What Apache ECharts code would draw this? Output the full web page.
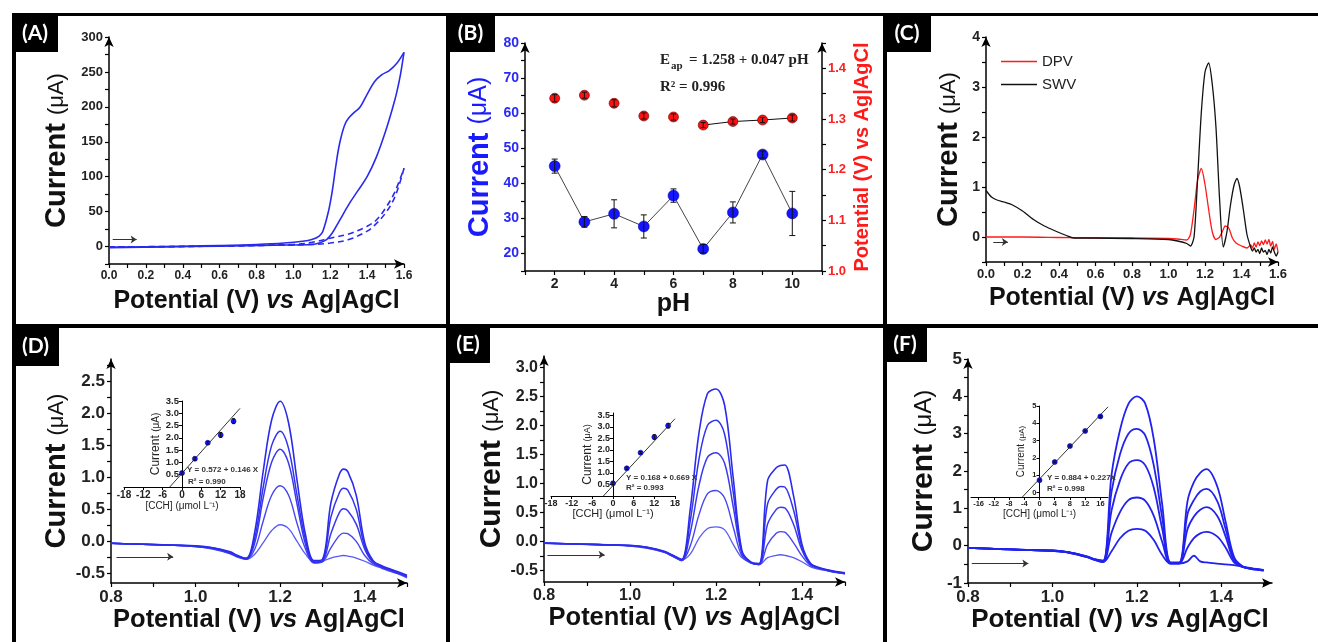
<!DOCTYPE html>
<html>
<head>
<meta charset="utf-8">
<script src="https://cdn.jsdelivr.net/npm/echarts@6/dist/echarts.min.js"></script>
<style>
  html, body { margin: 0; padding: 0; background: #fff; }
  #main { width: 1318px; height: 642px; }
</style>
</head>
<body>
<div id="main"></div>
<script>
// ---- (A) cyclic voltammograms ----
var cvFwdX = [0, 0.2, 0.4, 0.6, 0.8, 0.95, 1.05, 1.10, 1.14, 1.16, 1.19, 1.21, 1.23, 1.245, 1.26, 1.28, 1.30, 1.33, 1.36, 1.40, 1.44, 1.48, 1.52, 1.56, 1.60];
var cvFwdY = [-1, -0.5, 0.5, 1.5, 3, 5, 7.5, 10, 15, 22, 50, 78, 115, 140, 158, 175, 184, 192, 199, 218, 236, 246, 252, 262, 278];
var cvRevX = [1.60, 1.58, 1.56, 1.54, 1.50, 1.45, 1.40, 1.35, 1.30, 1.25, 1.21, 1.18, 1.14, 1.10, 0.90, 0.60, 0.30, 0.00];
var cvRevY = [278, 245, 220, 200, 165, 128, 100, 80, 60, 37, 19, 10, 5, 3, 2, 0.5, -0.5, -1.5];
var blankFwdX = [0, 0.5, 1.0, 1.1, 1.2, 1.3, 1.4, 1.45, 1.5, 1.55, 1.6];
var blankFwdY = [-0.5, 0.5, 3, 6, 12, 18, 29, 38, 55, 78, 112];
var blankRevX = [1.6, 1.57, 1.54, 1.5, 1.45, 1.4, 1.3, 1.2, 1.1, 0.8, 0.4, 0];
var blankRevY = [112, 85, 65, 48, 33, 22, 10, 5, 3, 1.5, 0, -1];
var aYTicks = [-25, 0, 25, 50, 75, 100, 125, 150, 175, 200, 225, 250, 275, 300];
var aYLabels = [0, 50, 100, 150, 200, 250, 300];
var potTicks16 = [0, 0.1, 0.2, 0.3, 0.4, 0.5, 0.6, 0.7, 0.8, 0.9, 1.0, 1.1, 1.2, 1.3, 1.4, 1.5, 1.6];
var potLabels16 = [0, 0.2, 0.4, 0.6, 0.8, 1.0, 1.2, 1.4, 1.6];

// ---- (B) pH study ----
var phX = [2, 3, 4, 5, 6, 7, 8, 9, 10];
var curY = [44.9, 29.0, 31.3, 27.7, 36.5, 21.3, 31.7, 48.2, 31.4];
var curErr = [2.0, 1.5, 4.0, 3.3, 1.9, 1.2, 3.0, 1.0, 6.3];
var potY = [1.341, 1.347, 1.331, 1.306, 1.304, 1.288, 1.295, 1.298, 1.302];
var potErr = [0.007, 0.006, 0.007, 0.006, 0.006, 0.005, 0.005, 0.005, 0.006];
var bCurTicks = [15, 20, 25, 30, 35, 40, 45, 50, 55, 60, 65, 70, 75, 80];
var bCurLabels = [20, 30, 40, 50, 60, 70, 80];
var bPotTicks = [1.0, 1.05, 1.1, 1.15, 1.2, 1.25, 1.3, 1.35, 1.4, 1.45];
var bPotLabels = [1.0, 1.1, 1.2, 1.3, 1.4];
var phTicks = [1, 2, 3, 4, 5, 6, 7, 8, 9, 10, 11];
var phLabels = [2, 4, 6, 8, 10];

// ---- (C) DPV vs SWV ----
var dpvX = [0, 0.2, 0.4, 0.6, 0.8, 1.0, 1.05, 1.10, 1.12, 1.14, 1.16, 1.18, 1.20, 1.22, 1.24, 1.26, 1.28, 1.30, 1.31, 1.33, 1.35, 1.37, 1.40, 1.43,
  1.45, 1.46, 1.47, 1.48, 1.49, 1.50, 1.51, 1.52, 1.53, 1.54, 1.55, 1.56, 1.57, 1.58, 1.59, 1.60];
var dpvY = [0, 0, -0.01, -0.02, -0.02, -0.03, -0.04, -0.06, 0.05, 0.55, 1.15, 1.37, 1.05, 0.55, 0.10, -0.05, 0.0, 0.15, 0.22, 0.18, -0.02, -0.12, -0.18, -0.22,
  -0.16, -0.22, -0.12, -0.20, -0.10, -0.17, -0.08, -0.15, -0.06, -0.14, -0.05, -0.18, -0.09, -0.24, -0.14, -0.30];
var swvX = [0, 0.03, 0.06, 0.10, 0.14, 0.20, 0.26, 0.32, 0.38, 0.44, 0.48, 0.6, 0.8, 1.0, 1.05, 1.10, 1.12, 1.14, 1.16, 1.18, 1.20, 1.22, 1.24, 1.26, 1.28, 1.30,
  1.32, 1.34, 1.36, 1.375, 1.39, 1.41, 1.43, 1.45, 1.46, 1.47, 1.48, 1.49, 1.50, 1.51, 1.52, 1.53, 1.54, 1.55, 1.56, 1.57, 1.58, 1.59, 1.60];
var swvY = [0.93, 0.80, 0.74, 0.70, 0.65, 0.52, 0.35, 0.22, 0.12, 0.03, -0.02, -0.02, -0.03, -0.05, -0.08, -0.13, -0.18, 0.0, 1.2, 2.5, 3.3, 3.48, 3.05, 2.2, 0.75, -0.20,
  0.10, 0.65, 1.05, 1.17, 1.00, 0.55, 0.05, -0.20, -0.28, -0.22, -0.30, -0.25, -0.33, -0.22, -0.30, -0.27, -0.35, -0.25, -0.32, -0.20, -0.30, -0.38, -0.30];
var cYTicks = [-0.5, 0, 0.5, 1, 1.5, 2, 2.5, 3, 3.5, 4];
var cYLabels = [0, 1, 2, 3, 4];

// ---- (D) DPV calibration ----
var dX = [0.80, 0.85, 0.90, 0.95, 1.00, 1.04, 1.08, 1.10, 1.12, 1.14, 1.16, 1.18, 1.20, 1.22, 1.24, 1.26, 1.28, 1.30, 1.32, 1.34, 1.35, 1.36, 1.38, 1.40, 1.42, 1.44, 1.46, 1.48, 1.50];
var dY1 = [-0.03, -0.04, -0.05, -0.06, -0.07, -0.10, -0.16, -0.22, -0.27, 0.15, 1.10, 1.90, 2.19, 1.85, 0.95, 0.10, -0.30, -0.28, 0.60, 1.05, 1.13, 1.09, 0.72, -0.02, -0.30, -0.38, -0.43, -0.48, -0.53];
var dY2 = [-0.03, -0.04, -0.05, -0.06, -0.07, -0.10, -0.17, -0.23, -0.26, 0.05, 0.85, 1.50, 1.72, 1.45, 0.72, 0.02, -0.32, -0.30, 0.38, 0.76, 0.83, 0.80, 0.50, -0.08, -0.32, -0.40, -0.44, -0.50, -0.54];
var dY3 = [-0.03, -0.04, -0.05, -0.06, -0.08, -0.11, -0.18, -0.24, -0.27, -0.02, 0.68, 1.24, 1.44, 1.22, 0.58, -0.05, -0.33, -0.31, 0.12, 0.45, 0.51, 0.48, 0.27, -0.12, -0.33, -0.40, -0.45, -0.50, -0.55];
var dY4 = [-0.03, -0.04, -0.05, -0.06, -0.08, -0.11, -0.18, -0.24, -0.28, -0.12, 0.32, 0.72, 0.87, 0.72, 0.28, -0.12, -0.34, -0.32, -0.10, 0.09, 0.13, 0.12, 0.00, -0.22, -0.35, -0.41, -0.46, -0.50, -0.56];
var dY5 = [-0.03, -0.04, -0.05, -0.06, -0.08, -0.12, -0.19, -0.25, -0.28, -0.20, -0.02, 0.17, 0.26, 0.20, 0.00, -0.20, -0.32, -0.31, -0.26, -0.23, -0.22, -0.23, -0.26, -0.31, -0.37, -0.42, -0.47, -0.51, -0.57];
var dYTicks = [-0.5, -0.25, 0, 0.25, 0.5, 0.75, 1, 1.25, 1.5, 1.75, 2, 2.25, 2.5, 2.75];
var dYLabels = [-0.5, 0, 0.5, 1.0, 1.5, 2.0, 2.5];
var dInX = [0, 4, 8, 12, 16];
var dInY = [0.57, 1.15, 1.80, 2.12, 2.68];
var dInErr = [0.05, 0.06, 0.05, 0.10, 0.10];
var dFitX = [-3.8, 18];
var dFitY = [0.0, 3.2];

// ---- (E) SWV calibration ----
var eX = dX;
var eY1 = [-0.03, -0.04, -0.05, -0.06, -0.07, -0.10, -0.17, -0.24, -0.31, 0.55, 1.85, 2.55, 2.63, 2.35, 1.10, -0.15, -0.35, -0.38, 1.05, 1.27, 1.31, 1.32, 0.80, -0.05, -0.38, -0.45, -0.49, -0.52, -0.54];
var eY2 = [-0.03, -0.04, -0.05, -0.06, -0.07, -0.10, -0.18, -0.25, -0.32, 0.35, 1.40, 2.00, 2.09, 1.85, 0.85, -0.18, -0.36, -0.39, 0.65, 0.90, 0.95, 0.94, 0.55, -0.10, -0.39, -0.46, -0.50, -0.53, -0.55];
var eY3 = [-0.03, -0.04, -0.05, -0.06, -0.07, -0.11, -0.18, -0.25, -0.33, 0.15, 0.95, 1.45, 1.53, 1.35, 0.60, -0.20, -0.36, -0.40, 0.30, 0.55, 0.59, 0.58, 0.30, -0.15, -0.40, -0.46, -0.50, -0.53, -0.55];
var eY4 = [-0.03, -0.04, -0.05, -0.06, -0.08, -0.11, -0.19, -0.26, -0.33, -0.08, 0.45, 0.82, 0.88, 0.75, 0.25, -0.25, -0.37, -0.40, -0.05, 0.14, 0.17, 0.16, -0.02, -0.25, -0.42, -0.47, -0.50, -0.53, -0.56];
var eY5 = [-0.03, -0.04, -0.05, -0.06, -0.08, -0.12, -0.19, -0.26, -0.32, -0.22, 0.05, 0.22, 0.25, 0.20, -0.05, -0.28, -0.36, -0.40, -0.28, -0.24, -0.23, -0.24, -0.28, -0.35, -0.44, -0.48, -0.51, -0.54, -0.56];
var eYTicks = [-0.5, -0.25, 0, 0.25, 0.5, 0.75, 1, 1.25, 1.5, 1.75, 2, 2.25, 2.5, 2.75, 3];
var eYLabels = [-0.5, 0, 0.5, 1.0, 1.5, 2.0, 2.5, 3.0];
var eInX = [0, 4, 8, 12, 16];
var eInY = [0.55, 1.20, 1.88, 2.56, 3.05];
var eInErr = [0.05, 0.05, 0.05, 0.10, 0.10];
var eFitX = [-2.8, 18];
var eFitY = [0.0, 3.35];

// ---- (F) third calibration ----
var fX = [0.80, 0.85, 0.90, 0.95, 1.00, 1.04, 1.08, 1.10, 1.12, 1.14, 1.16, 1.18, 1.20, 1.22, 1.24, 1.26, 1.28, 1.30, 1.32, 1.335, 1.35, 1.365, 1.39, 1.41, 1.43, 1.45, 1.47, 1.50];
var fY1 = [-0.06, -0.08, -0.10, -0.12, -0.13, -0.18, -0.28, -0.36, -0.40, 1.90, 3.10, 3.80, 4.00, 3.80, 2.85, 1.10, -0.45, -0.45, 1.20, 1.70, 1.95, 2.05, 1.60, 0.65, -0.30, -0.55, -0.60, -0.65];
var fY2 = [-0.06, -0.08, -0.10, -0.12, -0.13, -0.18, -0.29, -0.37, -0.41, 1.45, 2.45, 3.00, 3.13, 2.95, 2.15, 0.75, -0.46, -0.46, 0.85, 1.22, 1.45, 1.52, 1.20, 0.45, -0.35, -0.56, -0.61, -0.66];
var fY3 = [-0.06, -0.08, -0.10, -0.12, -0.13, -0.18, -0.29, -0.37, -0.42, 0.95, 1.75, 2.20, 2.29, 2.15, 1.55, 0.45, -0.47, -0.47, 0.45, 0.78, 0.96, 1.03, 0.80, 0.25, -0.40, -0.57, -0.61, -0.66];
var fY4 = [-0.06, -0.08, -0.10, -0.12, -0.14, -0.19, -0.30, -0.38, -0.43, 0.35, 0.90, 1.22, 1.29, 1.20, 0.80, 0.10, -0.48, -0.48, -0.05, 0.20, 0.33, 0.37, 0.25, -0.05, -0.45, -0.57, -0.62, -0.67];
var fY5 = [-0.06, -0.08, -0.10, -0.12, -0.14, -0.19, -0.30, -0.38, -0.44, -0.15, 0.20, 0.40, 0.45, 0.40, 0.15, -0.25, -0.48, -0.48, -0.42, -0.27, -0.42, -0.45, -0.48, -0.50, -0.52, -0.56, -0.62, -0.66];
var fYTicks = [-1, -0.5, 0, 0.5, 1, 1.5, 2, 2.5, 3, 3.5, 4, 4.5, 5];
var fYLabels = [-1, 0, 1, 2, 3, 4, 5];
var fInX = [0, 4, 8, 12, 16];
var fInY = [0.72, 1.77, 2.69, 3.56, 4.40];
var fInErr = [0.05, 0.05, 0.05, 0.05, 0.05];
var fFitX = [-4.5, 18];
var fFitY = [-0.25, 4.95];

var stepTicks = [0.8, 0.9, 1.0, 1.1, 1.2, 1.3, 1.4, 1.5];
var stepLabels = [0.8, 1.0, 1.2, 1.4];
var inXLabels18 = [-18, -12, -6, 0, 6, 12, 18];
var inYLabels35 = [0.5, 1.0, 1.5, 2.0, 2.5, 3.0, 3.5];
var inXLabels16 = [-16, -12, -8, -4, 0, 4, 8, 12, 16];
var inYLabels5 = [0, 1, 2, 3, 4, 5];

// scan-direction arrows, in data units of each panel
var arrowA = [[0.02, 10], [0.15, 10]];
var arrowC = [[0.04, -0.1], [0.12, -0.1]];
var arrowD = [[0.813, -0.24], [0.947, -0.24]];
var arrowE = [[0.808, -0.23], [0.941, -0.23]];
var arrowF = [[0.809, -0.48], [0.943, -0.48]];

var FONT = '"Liberation Sans", Arial, sans-serif';
var BLUE = '#2a2aee';

function zip(xs, ys) { return xs.map(function (x, i) { return [x, ys[i]]; }); }
function bars(xs, ys, es) { return xs.map(function (x, i) { return [x, ys[i] - es[i], ys[i] + es[i]]; }); }
function f0(v) { return String(Math.round(v)); }
function f1(v) { return v.toFixed(1); }

function valAxis(o) {
  return {
    type: 'value', gridIndex: o.grid, position: o.pos, offset: o.offset || 0, min: o.min, max: o.max,
    name: o.name || '', nameLocation: 'middle', nameGap: o.gap || 20, nameTextStyle: o.nameStyle || {},
    axisLine: {
      show: true, onZero: false,
      symbol: o.arrow ? ['none', 'arrow'] : ['none', 'none'], symbolSize: [7, 10],
      lineStyle: { color: '#000', width: o.lw || 1.5 }
    },
    axisTick: { show: true, customValues: o.ticks, length: o.tl || 4, lineStyle: { color: '#000', width: o.tw || 1.2 } },
    axisLabel: {
      show: true, customValues: o.labels, formatter: o.fmt, margin: o.margin || 6,
      color: o.color || '#222', fontSize: o.fs || 12, fontWeight: 'bold', fontFamily: FONT
    },
    splitLine: { show: false }
  };
}

function curName(bs, ss, color) {
  return {
    color: color,
    rich: {
      b: { fontSize: bs, fontWeight: 'bold', fontFamily: FONT, color: color },
      s: { fontSize: ss, fontFamily: FONT, color: color }
    }
  };
}
function potName(fs) {
  return {
    color: '#111',
    rich: {
      n: { fontSize: fs, fontWeight: 'bold', fontFamily: FONT, color: '#111' },
      i: { fontSize: fs, fontWeight: 'bold', fontStyle: 'italic', fontFamily: FONT, color: '#111' }
    }
  };
}
var CUR = '{b|Current }{s|(\u03bcA)}';
var POT = '{n|Potential (V) }{i|vs}{n| Ag|AgCl}';
var CCH = '[CCH] (\u03bcmol L\u207b\u00b9)';
function inName(cs, ss) {
  return { rich: { b: { fontSize: cs, fontFamily: FONT, color: '#222' }, s: { fontSize: ss, fontFamily: FONT, color: '#222' } } };
}

function lineSeries(xi, yi, data, color, width, extra) {
  var s = {
    type: 'line', xAxisIndex: xi, yAxisIndex: yi, data: data, symbol: 'none', smooth: 0.35,
    lineStyle: { color: color, width: width }, itemStyle: { color: color }, z: 2
  };
  for (var k in extra) s[k] = extra[k];
  return s;
}
function arrowMark(pts) {
  return {
    silent: true, symbol: ['none', 'arrow'], symbolSize: 6, label: { show: false },
    lineStyle: { color: '#333', width: 1, type: 'solid' },
    data: [[{ coord: pts[0] }, { coord: pts[1] }]]
  };
}
function errSeries(xi, yi, data, cap, color) {
  return {
    type: 'custom', xAxisIndex: xi, yAxisIndex: yi, data: data, z: 5,
    encode: { x: 0, y: [1, 2] },
    renderItem: function (params, api) {
      var p1 = api.coord([api.value(0), api.value(1)]);
      var p2 = api.coord([api.value(0), api.value(2)]);
      var st = { stroke: color, lineWidth: 1 };
      return {
        type: 'group', children: [
          { type: 'line', shape: { x1: p1[0], y1: p1[1], x2: p2[0], y2: p2[1] }, style: st },
          { type: 'line', shape: { x1: p1[0] - cap, y1: p1[1], x2: p1[0] + cap, y2: p1[1] }, style: st },
          { type: 'line', shape: { x1: p2[0] - cap, y1: p2[1], x2: p2[0] + cap, y2: p2[1] }, style: st }
        ]
      };
    }
  };
}
function dotSeries(xi, yi, data, size, color, border) {
  return {
    type: 'scatter', xAxisIndex: xi, yAxisIndex: yi, data: data, symbolSize: size, z: 4,
    itemStyle: { color: color, borderColor: border || color, borderWidth: 0.6, opacity: 1 }
  };
}

var grids = [
  { left: 109, top: 37, width: 295, height: 227 },   // A
  { left: 525, top: 43, width: 297, height: 228 },   // B
  { left: 986, top: 37, width: 292, height: 225 },   // C
  { left: 111, top: 359, width: 296, height: 224 },  // D
  { left: 544, top: 356, width: 301, height: 226 },  // E
  { left: 968, top: 359, width: 304, height: 224 },  // F
  { left: 124, top: 401, width: 116, height: 86 },   // D inset
  { left: 551, top: 413, width: 124, height: 83 },   // E inset
  { left: 971, top: 406, width: 137, height: 91 }    // F inset
].map(function (g) { g.outerBoundsMode = 'none'; return g; });

var xAxes = [
  valAxis({ grid: 0, min: 0, max: 1.6, ticks: potTicks16, labels: potLabels16, fmt: f1, fs: 12, arrow: true, name: POT, gap: 25, nameStyle: potName(25) }),
  valAxis({ grid: 1, min: 1, max: 11, ticks: phTicks, labels: phLabels, fmt: f0, fs: 14, name: 'pH', gap: 20,
    nameStyle: { fontSize: 25, fontWeight: 'bold', fontFamily: FONT, color: '#111' } }),
  valAxis({ grid: 2, min: 0, max: 1.6, ticks: potTicks16, labels: potLabels16, fmt: f1, fs: 13, arrow: true, name: POT, gap: 24, nameStyle: potName(25) }),
  valAxis({ grid: 3, min: 0.8, max: 1.5, ticks: stepTicks, labels: stepLabels, fmt: f1, fs: 17, arrow: true, name: POT, gap: 22, nameStyle: potName(25.5) }),
  valAxis({ grid: 4, min: 0.8, max: 1.5, ticks: stepTicks, labels: stepLabels, fmt: f1, fs: 16, arrow: true, name: POT, gap: 20, nameStyle: potName(25.5) }),
  valAxis({ grid: 5, min: 0.8, max: 1.52, ticks: stepTicks, labels: stepLabels, fmt: f1, fs: 17, arrow: true, name: POT, gap: 22, nameStyle: potName(26) }),
  valAxis({ grid: 6, min: -18, max: 18, ticks: inXLabels18, labels: inXLabels18, fmt: f0, fs: 10, lw: 1, tl: 3, tw: 1, margin: 3,
    name: CCH, gap: 14, nameStyle: { fontSize: 10, fontFamily: FONT, color: '#222' } }),
  valAxis({ grid: 7, min: -18, max: 18, ticks: inXLabels18, labels: inXLabels18, fmt: f0, fs: 9, lw: 1, tl: 3, tw: 1, margin: 3,
    name: CCH, gap: 12, nameStyle: { fontSize: 11, fontFamily: FONT, color: '#222' } }),
  valAxis({ grid: 8, min: -18, max: 18, ticks: inXLabels16, labels: inXLabels16, fmt: f0, fs: 7.5, lw: 1, tl: 3, tw: 1, margin: 3,
    name: CCH, gap: 10, nameStyle: { fontSize: 10, fontFamily: FONT, color: '#222' } })
];

// inset y axes sit on x = 0, i.e. half the inset width in from the left edge
var yAxes = [
  valAxis({ grid: 0, min: -25, max: 300, ticks: aYTicks, labels: aYLabels, fmt: f0, fs: 13, arrow: true, name: CUR, gap: 38, nameStyle: curName(29, 22, '#111') }),
  valAxis({ grid: 1, pos: 'left', min: 15, max: 80, ticks: bCurTicks, labels: bCurLabels, fmt: f0, fs: 14, color: '#2a2af5', arrow: true,
    name: CUR, gap: 31, nameStyle: curName(29, 25, '#1a1aff') }),
  valAxis({ grid: 1, pos: 'right', min: 1.0, max: 1.45, ticks: bPotTicks, labels: bPotLabels, fmt: f1, fs: 13, color: '#ff2020', arrow: true,
    name: 'Potential (V) vs Ag|AgCl', gap: 30, nameStyle: { fontSize: 20, fontWeight: 'bold', fontFamily: FONT, color: '#ff1a1a' } }),
  valAxis({ grid: 2, min: -0.5, max: 4, ticks: cYTicks, labels: cYLabels, fmt: f0, fs: 14, arrow: true, name: CUR, gap: 23, nameStyle: curName(29, 22, '#111') }),
  valAxis({ grid: 3, min: -0.65, max: 2.85, ticks: dYTicks, labels: dYLabels, fmt: f1, fs: 17, arrow: true, name: CUR, gap: 38, nameStyle: curName(29, 22, '#111') }),
  valAxis({ grid: 4, min: -0.7, max: 3.2, ticks: eYTicks, labels: eYLabels, fmt: f1, fs: 16, arrow: true, name: CUR, gap: 33, nameStyle: curName(30, 22, '#111') }),
  valAxis({ grid: 5, min: -1, max: 5, ticks: fYTicks, labels: fYLabels, fmt: f0, fs: 17, arrow: true, name: CUR, gap: 29, nameStyle: curName(30, 24, '#111') }),
  valAxis({ grid: 6, min: 0, max: 3.5, ticks: inYLabels35, labels: inYLabels35, fmt: f1, fs: 9.5, lw: 1, tl: 3, tw: 1, margin: 3, offset: -58,
    name: '{b|Current }{s|(\u03bcA)}', gap: 19, nameStyle: inName(12, 10) }),
  valAxis({ grid: 7, min: 0, max: 3.6, ticks: inYLabels35, labels: inYLabels35, fmt: f1, fs: 9, lw: 1, tl: 3, tw: 1, margin: 3, offset: -62,
    name: '{b|Current }{s|(\u03bcA)}', gap: 17, nameStyle: inName(12, 9) }),
  valAxis({ grid: 8, min: -0.25, max: 5, ticks: inYLabels5, labels: inYLabels5, fmt: f0, fs: 7.5, lw: 1, tl: 3, tw: 1, margin: 3, offset: -68.5,
    name: '{b|Current }{s|(\u03bcA)}', gap: 13, nameStyle: inName(10, 8) })
];

var series = [
  // A
  lineSeries(0, 0, zip(cvFwdX, cvFwdY), BLUE, 1.6, { markLine: arrowMark(arrowA) }),
  lineSeries(0, 0, zip(cvRevX, cvRevY), BLUE, 1.6),
  lineSeries(0, 0, zip(blankFwdX, blankFwdY), BLUE, 1.6, { lineStyle: { color: BLUE, width: 1.6, type: [6, 4] } }),
  lineSeries(0, 0, zip(blankRevX, blankRevY), BLUE, 1.6, { lineStyle: { color: BLUE, width: 1.6, type: [6, 4] } }),
  // B
  {
    type: 'line', xAxisIndex: 1, yAxisIndex: 1, data: zip(phX, curY), symbol: 'circle', symbolSize: 11, z: 3,
    lineStyle: { color: '#444', width: 1 }, itemStyle: { color: '#1515ff', borderColor: '#0000aa', borderWidth: 0.5 }
  },
  errSeries(1, 1, bars(phX, curY, curErr), 3, '#111'),
  lineSeries(1, 2, zip(phX.slice(5), potY.slice(5)), '#111', 1, { smooth: false }),
  dotSeries(1, 2, zip(phX, potY), 10, '#ff1010', '#660000'),
  errSeries(1, 2, bars(phX, potY, potErr), 2.5, '#111'),
  // C
  lineSeries(2, 3, zip(dpvX, dpvY), '#ff1a1a', 1.3, { name: 'DPV', smooth: 0.25 }),
  lineSeries(2, 3, zip(swvX, swvY), '#111', 1.3, { name: 'SWV', smooth: 0.25, markLine: arrowMark(arrowC) }),
  // D
  lineSeries(3, 4, zip(dX, dY5), '#5a5af5', 1.3, { markLine: arrowMark(arrowD) }),
  lineSeries(3, 4, zip(dX, dY4), '#4545f2', 1.4),
  lineSeries(3, 4, zip(dX, dY3), '#3a3af0', 1.5),
  lineSeries(3, 4, zip(dX, dY2), '#3333ee', 1.5),
  lineSeries(3, 4, zip(dX, dY1), '#2b2bec', 1.6),
  lineSeries(6, 7, zip(dFitX, dFitY), '#333', 1, { smooth: false }),
  dotSeries(6, 7, zip(dInX, dInY), 5, '#1a1aff', '#000080'),
  errSeries(6, 7, bars(dInX, dInY, dInErr), 1.5, '#111'),
  // E
  lineSeries(4, 5, zip(eX, eY5), '#5a5af5', 1.3, { markLine: arrowMark(arrowE) }),
  lineSeries(4, 5, zip(eX, eY4), '#4545f2', 1.4),
  lineSeries(4, 5, zip(eX, eY3), '#3a3af0', 1.5),
  lineSeries(4, 5, zip(eX, eY2), '#3333ee', 1.5),
  lineSeries(4, 5, zip(eX, eY1), '#2b2bec', 1.6),
  lineSeries(7, 8, zip(eFitX, eFitY), '#333', 1, { smooth: false }),
  dotSeries(7, 8, zip(eInX, eInY), 5, '#1a1aff', '#000080'),
  errSeries(7, 8, bars(eInX, eInY, eInErr), 1.5, '#111'),
  // F
  lineSeries(5, 6, zip(fX, fY5), '#2222ee', 1.8, { markLine: arrowMark(arrowF) }),
  lineSeries(5, 6, zip(fX, fY4), '#2222ee', 1.8),
  lineSeries(5, 6, zip(fX, fY3), '#2222ee', 1.8),
  lineSeries(5, 6, zip(fX, fY2), '#2222ee', 1.8),
  lineSeries(5, 6, zip(fX, fY1), '#2222ee', 1.8),
  lineSeries(8, 9, zip(fFitX, fFitY), '#333', 1, { smooth: false }),
  dotSeries(8, 9, zip(fInX, fInY), 5, '#1a1aff', '#000080'),
  errSeries(8, 9, bars(fInX, fInY, fInErr), 1.5, '#111')
];

function rect(x, y, w, h) { return { type: 'rect', shape: { x: x, y: y, width: w, height: h }, style: { fill: '#000' }, z: 100 }; }
function tag(x, y, w, h, t) {
  return [rect(x, y, w, h), {
    type: 'text', x: x + w / 2, y: y + h / 2 + 1, z: 101,
    style: { text: t, fill: '#fff', fontSize: 21, fontWeight: 'bold', fontFamily: 'Lato, "Open Sans", sans-serif', align: 'center', verticalAlign: 'middle' }
  }];
}
function txt(x, y, t, size, font, weight, color) {
  return {
    type: 'text', x: x, y: y, z: 50,
    style: { text: t, fill: color || '#222', fontSize: size, fontWeight: weight || 'bold', fontFamily: font || FONT, verticalAlign: 'middle' }
  };
}
var SERIF = '"Liberation Serif", "Times New Roman", serif';

var graphics = [
  rect(12, 13, 1306, 3),
  rect(12, 13, 4, 629),
  rect(446, 13, 4, 629),
  rect(883, 13, 4, 629),
  rect(12, 324, 1306, 4)
].concat(
  tag(12, 13, 46, 39, '(A)'),
  tag(446, 13, 49, 39, '(B)'),
  tag(883, 13, 48, 39, '(C)'),
  tag(12, 324, 47, 42, '(D)'),
  tag(446, 324, 44, 39, '(E)'),
  tag(883, 324, 44, 38, '(F)'),
  [
    txt(660, 60, 'E', 15, SERIF),
    txt(671, 66, 'ap', 11, SERIF),
    txt(689, 60, '= 1.258 + 0.047 pH', 15, SERIF),
    txt(660, 87, 'R\u00b2 = 0.996', 15, SERIF),
    txt(187, 470, 'Y = 0.572 + 0.146 X', 8, FONT, 'bold', '#333'),
    txt(188, 482, 'R\u00b2 = 0.990', 8, FONT, 'bold', '#333'),
    txt(626, 478, 'Y = 0.168 + 0.669 X', 8, FONT, 'bold', '#333'),
    txt(626, 488, 'R\u00b2 = 0.993', 8, FONT, 'bold', '#333'),
    txt(1047, 478, 'Y = 0.884 + 0.227X', 8, FONT, 'bold', '#333'),
    txt(1047, 489, 'R\u00b2 = 0.998', 8, FONT, 'bold', '#333')
  ]
);

var chart = echarts.init(document.getElementById('main'));
chart.setOption({
  animation: false,
  backgroundColor: '#fff',
  textStyle: { fontFamily: FONT },
  legend: {
    data: ['DPV', 'SWV'], orient: 'vertical', left: 996, top: 49, icon: 'rect',
    itemWidth: 36, itemHeight: 1.5, itemGap: 8,
    textStyle: { fontSize: 15, color: '#222', fontFamily: FONT }
  },
  grid: grids,
  xAxis: xAxes,
  yAxis: yAxes,
  series: series,
  graphic: graphics
});
</script>
</body>
</html>
